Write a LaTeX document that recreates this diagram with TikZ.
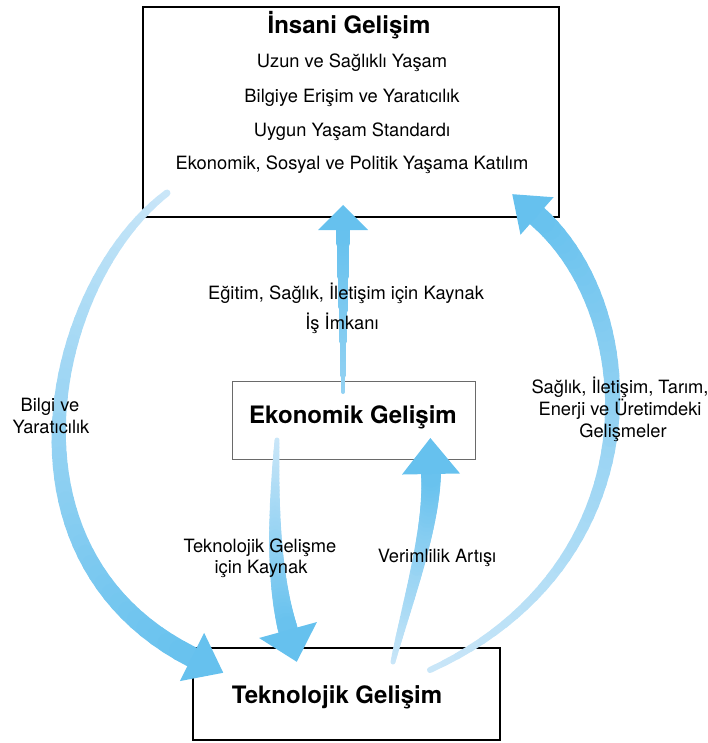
\documentclass[tikz,border=0pt]{standalone}
\usepackage{fontspec}
\setmainfont{TeX Gyre Heros}
\usetikzlibrary{calc}

\definecolor{arrowdark}{HTML}{66C1EE}
\definecolor{arrowlight}{HTML}{C9E6F8}
\definecolor{boxgray}{HTML}{6A6A6A}

\tikzset{
  reg/.style={font=\fontsize{18.3}{22}\selectfont, anchor=base, inner sep=0pt},
  heading/.style={font=\fontsize{24}{28}\selectfont\bfseries, anchor=base, inner sep=0pt},
  frame/.style={line width=1.3pt, black},
  heavyedge/.style={line width=2.6pt, black, line cap=rect},
}

% Tapered, colour-graded arrow along a cubic curve.
% #1 tail, #2 #3 controls, #4 centre of the head base,
% #5 tail width, #6 width at the head, #7 head length,
% #8 head half-width, #9 share of the dark colour at the tail (percent)
\newcommand\gradarrow[9]{%
  \foreach \gi in {0,...,47}{%
    \pgfmathsetmacro\gposa{\gi/48}%
    \pgfmathsetmacro\gposb{(\gi+1)/48}%
    \pgfmathsetmacro\gwid{#5+(#6-#5)*\gposa}%
    \pgfmathtruncatemacro\gpct{#9+(100-#9)*\gposa}%
    \path (#1) .. controls (#2) and (#3) .. (#4)
      coordinate[pos=\gposa] (ga) coordinate[pos=\gposb] (gb);
    \colorlet{segc}{arrowdark!\gpct!arrowlight}%
    \draw[line width=\gwid pt, segc, line cap=round] (ga) -- (gb);
  }%
  \coordinate (gt) at ($(#4)!-#7pt!(#3)$);
  \fill[arrowdark] (gt) -- ($(#4)!#8pt!90:(gt)$) -- ($(#4)!#8pt!-90:(gt)$) -- cycle;
}

\begin{document}
\begin{tikzpicture}[x=1pt, y=-1pt]
  \useasboundingbox (0,0) rectangle (707,743);

  % boxes
  \draw[frame] (143,7) rectangle (559,217);
  \draw[heavyedge] (559,7) -- (559,217) -- (143,217);
  \draw[line width=0.9pt, boxgray] (232,381) rectangle (475,459);
  \draw[frame] (193,648) rectangle (500,740);
  \draw[heavyedge] (500,648) -- (500,740) -- (193,740);

  % connectors
  \coordinate (la0) at (167,193); \coordinate (la1) at (50,282);
  \coordinate (la2) at (-12,554); \coordinate (la3) at (192,657);
  \gradarrow{la0}{la1}{la2}{la3}{7}{21}{35}{27}{0}

  \coordinate (ra0) at (430,670); \coordinate (ra1) at (657,565);
  \coordinate (ra2) at (647,313); \coordinate (ra3) at (537,216);
  \gradarrow{ra0}{ra1}{ra2}{ra3}{6}{22}{33}{25}{0}

  \coordinate (ma0) at (343,392); \coordinate (ma1) at (343,340);
  \coordinate (ma2) at (343,280); \coordinate (ma3) at (343,230);
  \gradarrow{ma0}{ma1}{ma2}{ma3}{4}{14}{25}{25}{55}

  \coordinate (da0) at (277,440); \coordinate (da1) at (274,500);
  \coordinate (da2) at (272,572); \coordinate (da3) at (288,630);
  \gradarrow{da0}{da1}{da2}{da3}{5}{20}{33}{30}{0}

  \coordinate (ua0) at (393,662); \coordinate (ua1) at (405,610);
  \coordinate (ua2) at (432,530); \coordinate (ua3) at (431,474);
  \gradarrow{ua0}{ua1}{ua2}{ua3}{5}{20}{36}{29}{0}

  % texts of the upper box
  \node[heading] (insani) at (349,34) {İnsani Gelişim};
  \node[reg] (uzun) at (352,68) {Uzun ve Sağlıklı Yaşam};
  \node[reg] (bilgiye) at (352,103) {Bilgiye Erişim ve Yaratıcılık};
  \node[reg] (uygun) at (352,137) {Uygun Yaşam Standardı};
  \node[reg] (katilim) at (352,170) {Ekonomik, Sosyal ve Politik Yaşama Katılım};

  % central labels and boxes
  \node[reg] (egitim) at (346,299) {Eğitim, Sağlık, İletişim için Kaynak};
  \node[reg] (imkan) at (342,329) {İş İmkanı};
  \node[heading] (ekonomik) at (353,423) {Ekonomik Gelişim};
  \node[heading] (teknolojik) at (337,703) {Teknolojik Gelişim};

  \node[reg] (tg1) at (260,552) {Teknolojik Gelişme};
  \node[reg] (tg2) at (261,573) {için Kaynak};
  \node[reg] (verim) at (437,562) {Verimlilik Artışı};

  \node[reg] (by1) at (50,411) {Bilgi ve};
  \node[reg] (by2) at (51,433) {Yaratıcılık};

  \node[reg] (sg1) at (620,393) {Sağlık, İletişim, Tarım,};
  \node[reg] (sg2) at (620,415) {Enerji ve Üretimdeki};
  \node[reg] (sg3) at (623,437) {Gelişmeler};
\end{tikzpicture}
\end{document}
